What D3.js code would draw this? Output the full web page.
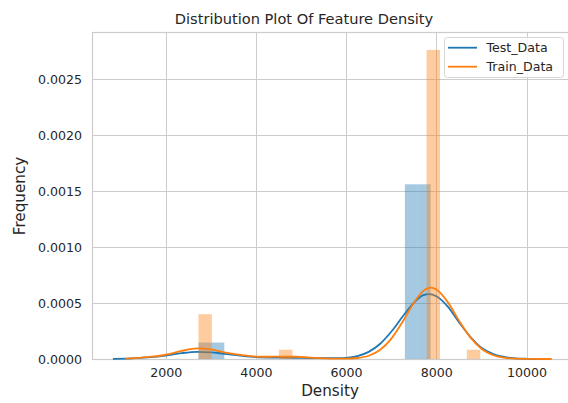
<!DOCTYPE html>
<html>
<head>
<meta charset="utf-8">
<script src="https://cdn.jsdelivr.net/npm/d3@7"></script>
<style>
  body { margin: 0; background: #fff; }
  svg { display: block; font-family: "DejaVu Sans", sans-serif; }
</style>
</head>
<body>
<svg id="chart"></svg>
<script>
const width = 568
const height = 403

// tick values
const xTicks = [2000, 4000, 6000, 8000, 10000]
const yTicks = [0, 0.0005, 0.001, 0.0015, 0.002, 0.0025]

// histogram bins (density)
const testBinLo = [2727, 3013, 7303, 7589]
const testBinHi = [3013, 3299, 7589, 7875]
const testBinDensity = [0.000147, 0.000147, 0.00156, 0.00156]

const trainBinLo = [2727, 4512, 7784, 8677]
const trainBinHi = [3024, 4810, 8082, 8975]
const trainBinDensity = [0.0004, 0.000083, 0.00276, 0.000083]

// kde curves
const testKdeX = [830, 1250, 1600, 2000, 2350, 2700, 3000, 3300, 3700, 4000, 4500, 5000, 5500, 5800, 6000, 6250, 6500, 6750, 7000, 7250, 7500, 7700, 7845, 8000, 8250, 8500, 8750, 9000, 9250, 9500, 9750, 10000, 10480]
const testKdeY = [0.000002, 0.000006, 0.000014, 0.00003, 0.000052, 0.000064, 0.00006, 0.000046, 0.000028, 0.000018, 0.000012, 0.00001, 0.000007, 0.000007, 0.00001, 0.000026, 0.000064, 0.000134, 0.000243, 0.000377, 0.000502, 0.000568, 0.00058, 0.00056, 0.00047, 0.00033, 0.0002, 0.0001, 0.000046, 0.000018, 0.000006, 0.000002, 0]

const trainKdeX = [1100, 1400, 1700, 2000, 2350, 2700, 3000, 3300, 3700, 4000, 4300, 4600, 4900, 5200, 5500, 5800, 6000, 6250, 6500, 6750, 7000, 7250, 7500, 7750, 7880, 8000, 8250, 8500, 8750, 9000, 9250, 9500, 9750, 10000, 10560]
const trainKdeY = [0.000003, 0.00001, 0.000021, 0.000038, 0.000072, 0.000094, 0.000085, 0.00006, 0.000035, 0.000022, 0.00002, 0.000022, 0.00002, 0.000013, 0.000006, 0.000003, 0.000003, 0.000009, 0.000029, 0.00008, 0.00018, 0.00033, 0.0005, 0.00062, 0.000637, 0.00062, 0.00051, 0.000345, 0.000195, 0.000092, 0.000036, 0.000012, 0.000003, 0.000001, 0]

const seriesNames = ['Test_Data', 'Train_Data']
const seriesColors = ['#1f77b4', '#ff7f0e']

const margin = { left: 92, top: 32, right: -1, bottom: 44 }

const x = d3.scaleLinear()
    .domain([366, 10942])
    .range([margin.left, width - margin.right])

const y = d3.scaleLinear()
    .domain([0, 0.00292])
    .range([height - margin.bottom, margin.top])

const svg = d3.select('#chart')
    .attr('width', width)
    .attr('height', height)

svg.append('rect')
    .attr('width', width)
    .attr('height', height)
    .attr('fill', '#fff')

// grid
const grid = svg.append('g')
    .attr('stroke', '#cccccc')
    .attr('stroke-width', 1)
grid.selectAll('.vx')
    .data(xTicks)
    .join('line')
    .attr('x1', d => Math.round(x(d)) + 0.5)
    .attr('x2', d => Math.round(x(d)) + 0.5)
    .attr('y1', y.range()[1])
    .attr('y2', y.range()[0])
grid.selectAll('.hy')
    .data(yTicks.slice(1))
    .join('line')
    .attr('y1', d => Math.round(y(d)) + 0.5)
    .attr('y2', d => Math.round(y(d)) + 0.5)
    .attr('x1', x.range()[0])
    .attr('x2', x.range()[1])

// frame
svg.append('rect')
    .attr('x', x.range()[0] + 0.5)
    .attr('y', y.range()[1] + 0.5)
    .attr('width', x.range()[1] - x.range()[0])
    .attr('height', y.range()[0] - y.range()[1])
    .attr('fill', 'none')
    .attr('stroke', '#cccccc')
    .attr('stroke-width', 1.2)

const line = d3.line()
    .x(d => x(d[0]))
    .y(d => y(d[1]))
    .curve(d3.curveMonotoneX)

const drawSeries = function(lo, hi, dens, kx, ky, color) {
    svg.append('g')
        .selectAll('rect')
        .data(lo)
        .join('rect')
        .attr('x', (d, i) => x(d))
        .attr('width', (d, i) => x(hi[i]) - x(d))
        .attr('y', (d, i) => y(dens[i]))
        .attr('height', (d, i) => y(0) - y(dens[i]))
        .attr('fill', color)
        .attr('fill-opacity', 0.4)

    svg.append('path')
        .datum(kx.map((d, i) => [d, ky[i]]))
        .attr('d', line)
        .attr('fill', 'none')
        .attr('stroke', color)
        .attr('stroke-width', 1.8)
}

drawSeries(testBinLo, testBinHi, testBinDensity, testKdeX, testKdeY, seriesColors[0])
drawSeries(trainBinLo, trainBinHi, trainBinDensity, trainKdeX, trainKdeY, seriesColors[1])

// axes
const xAxis = svg.append('g')
    .attr('transform', `translate(0,${y(0)})`)
    .call(d3.axisBottom(x).tickValues(xTicks).tickSize(0).tickPadding(9).tickFormat(d3.format('d')))
xAxis.select('.domain').remove()

const yAxis = svg.append('g')
    .attr('transform', `translate(${x.range()[0]},0)`)
    .call(d3.axisLeft(y).tickValues(yTicks).tickSize(0).tickPadding(10).tickFormat(d3.format('.4f')))
yAxis.select('.domain').remove()

svg.selectAll('.tick text')
    .attr('font-family', '"DejaVu Sans", sans-serif')
    .attr('font-size', 12.6)
    .attr('fill', '#262626')

// titles
svg.append('text')
    .attr('x', 304)
    .attr('y', 24)
    .attr('text-anchor', 'middle')
    .attr('font-size', 14.6)
    .attr('fill', '#262626')
    .text('Distribution Plot Of Feature Density')

svg.append('text')
    .attr('x', 330)
    .attr('y', 396)
    .attr('text-anchor', 'middle')
    .attr('font-size', 15.2)
    .attr('fill', '#262626')
    .text('Density')

svg.append('text')
    .attr('transform', 'translate(25,196) rotate(-90)')
    .attr('text-anchor', 'middle')
    .attr('font-size', 15.2)
    .attr('fill', '#262626')
    .text('Frequency')

// legend
const legend = svg.append('g')
legend.append('rect')
    .attr('x', 444.5)
    .attr('y', 37.5)
    .attr('width', 119)
    .attr('height', 40)
    .attr('rx', 3)
    .attr('fill', '#fff')
    .attr('fill-opacity', 0.8)
    .attr('stroke', '#d6d6d6')

seriesNames.forEach(function(name, i) {
    const ly = 47.7 + i * 19
    legend.append('line')
        .attr('x1', 448)
        .attr('x2', 477)
        .attr('y1', ly)
        .attr('y2', ly)
        .attr('stroke', seriesColors[i])
        .attr('stroke-width', 1.8)
    legend.append('text')
        .attr('x', 486.5)
        .attr('y', ly + 4.6)
        .attr('font-size', 12.6)
        .attr('fill', '#262626')
        .text(name)
})
</script>
</body>
</html>
